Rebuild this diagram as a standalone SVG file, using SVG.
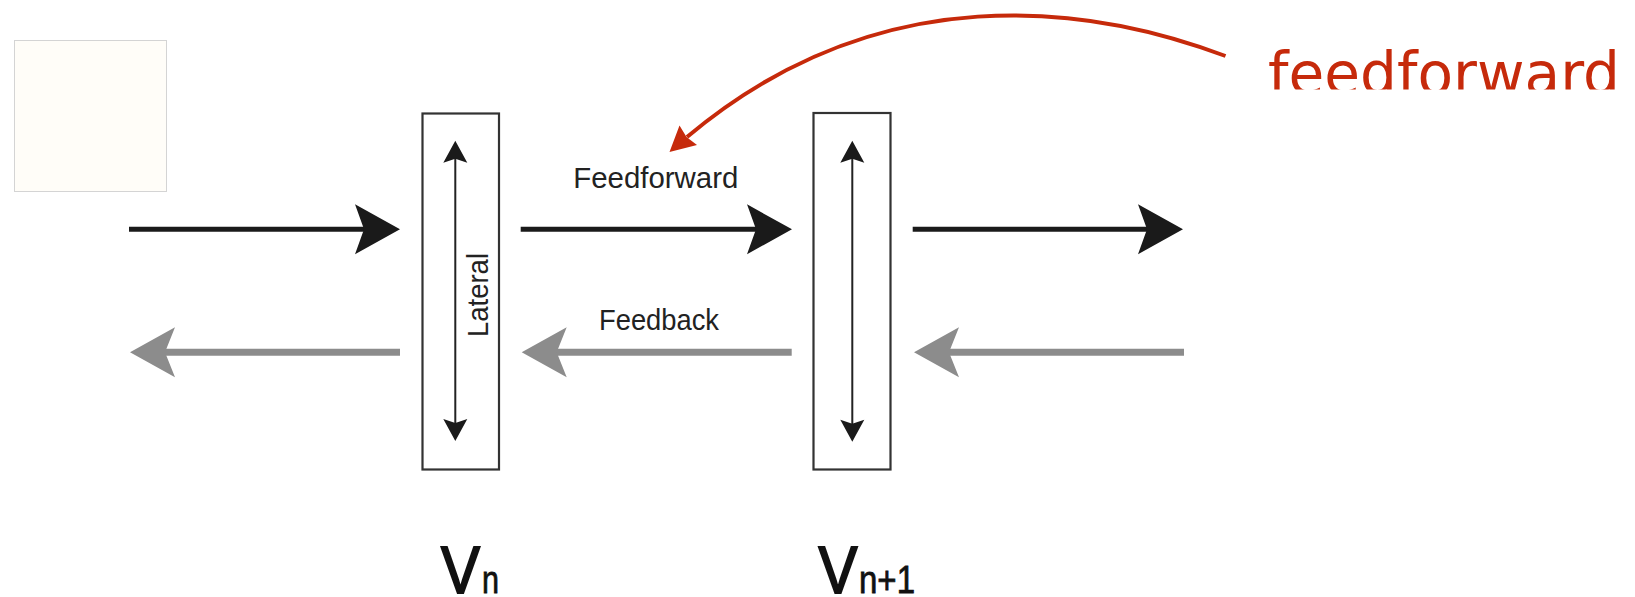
<svg xmlns="http://www.w3.org/2000/svg" xmlns:xlink="http://www.w3.org/1999/xlink" width="1635" height="597" viewBox="0 0 1635 597">
  <style>
    .box { fill: none; stroke: #333; stroke-width: 2.2; }
    .lat { stroke: #222; stroke-width: 2; fill: none; }
    .fwd { stroke: #1a1a1a; stroke-width: 5; fill: none; }
    .fb { stroke: #8c8c8c; stroke-width: 7; fill: none; }
    .lbl { font-family: "Liberation Sans", Arial, sans-serif; font-size: 29px; fill: #222; }
    .v { font-family: "Liberation Sans", Arial, sans-serif; fill: #111; stroke: #111; }
    .red { stroke: #c62a0b; stroke-width: 4; fill: none; stroke-linecap: butt; }
    .redtxt { font-family: "DejaVu Sans", "Liberation Sans", sans-serif; font-size: 58px; fill: #c62a0b; }
  </style>
  <defs>
    <path id="ahB" d="M0,0 L-45,-25 L-36,0 L-45,25 Z" fill="#1a1a1a"/>
    <path id="ahG" d="M0,0 L-45,-25 L-35,0 L-45,25 Z" fill="#8c8c8c"/>
    <path id="ahS" d="M0,0 L-22,-12 L-18,0 L-22,12 Z" fill="#1a1a1a"/>
    <clipPath id="redclip"><rect x="1200" y="0" width="435" height="89.5"/></clipPath>
  </defs>
  <rect width="1635" height="597" fill="#ffffff"/>

  <g id="placeholder">
    <rect x="14.5" y="40.5" width="152" height="151" fill="#fffdf8" stroke="#d4d4d4" stroke-width="1"/>
  </g>

  <g id="Vn">
    <rect class="box" x="422.5" y="113.5" width="76.5" height="356"/>
    <line class="lat" x1="455.3" y1="158" x2="455.3" y2="424"/>
    <use xlink:href="#ahS" transform="translate(455.3,140.7) rotate(-90)"/>
    <use xlink:href="#ahS" transform="translate(455.3,441) rotate(90)"/>
    <text class="lbl" transform="translate(488,295) rotate(-90)" text-anchor="middle" textLength="84" lengthAdjust="spacingAndGlyphs">Lateral</text>
  </g>

  <g id="Vn1">
    <rect class="box" x="813.5" y="113" width="77" height="356.5"/>
    <line class="lat" x1="852.3" y1="158" x2="852.3" y2="425"/>
    <use xlink:href="#ahS" transform="translate(852.3,140.7) rotate(-90)"/>
    <use xlink:href="#ahS" transform="translate(852.3,441.7) rotate(90)"/>
  </g>

  <g id="connectors">
    <line class="fwd" x1="129" y1="229.3" x2="366" y2="229.3"/>
    <use xlink:href="#ahB" transform="translate(400,229.3)"/>
    <line class="fwd" x1="520.7" y1="229.3" x2="758" y2="229.3"/>
    <use xlink:href="#ahB" transform="translate(792,229.3)"/>
    <line class="fwd" x1="912.7" y1="229.3" x2="1149" y2="229.3"/>
    <use xlink:href="#ahB" transform="translate(1183,229.3)"/>

    <line class="fb" x1="400" y1="352.3" x2="164" y2="352.3"/>
    <use xlink:href="#ahG" transform="translate(130,352.3) rotate(180)"/>
    <line class="fb" x1="791.7" y1="352.3" x2="556" y2="352.3"/>
    <use xlink:href="#ahG" transform="translate(521.7,352.3) rotate(180)"/>
    <line class="fb" x1="1184" y1="352.3" x2="948" y2="352.3"/>
    <use xlink:href="#ahG" transform="translate(914,352.3) rotate(180)"/>

    <path class="red" d="M1225.5,56 C1090,5 880,-25 687,137"/>
    <path d="M669.5,152 L679.5,125.5 L686.5,137 L697,145 Z" fill="#c62a0b"/>
  </g>

  <g id="labels">
    <text class="lbl" x="573.3" y="188.3" textLength="165" lengthAdjust="spacingAndGlyphs">Feedforward</text>
    <text class="lbl" x="599" y="330" textLength="120" lengthAdjust="spacingAndGlyphs">Feedback</text>
  </g>

  <g id="label-Vn">
    <text class="v" x="441" y="593" font-size="67" stroke-width="2" textLength="39" lengthAdjust="spacingAndGlyphs">V</text>
    <text class="v" x="482" y="592.5" font-size="38" stroke-width="0.8" textLength="17" lengthAdjust="spacingAndGlyphs">n</text>
  </g>
  <g id="label-Vn1">
    <text class="v" x="818.5" y="593" font-size="67" stroke-width="2" textLength="39" lengthAdjust="spacingAndGlyphs">V</text>
    <text class="v" x="859" y="592.5" font-size="38" stroke-width="0.8" textLength="56" lengthAdjust="spacingAndGlyphs">n+1</text>
  </g>

  <g id="annotation" clip-path="url(#redclip)">
    <text class="redtxt" x="1268" y="94" textLength="352" lengthAdjust="spacingAndGlyphs">feedforward</text>
  </g>
</svg>
